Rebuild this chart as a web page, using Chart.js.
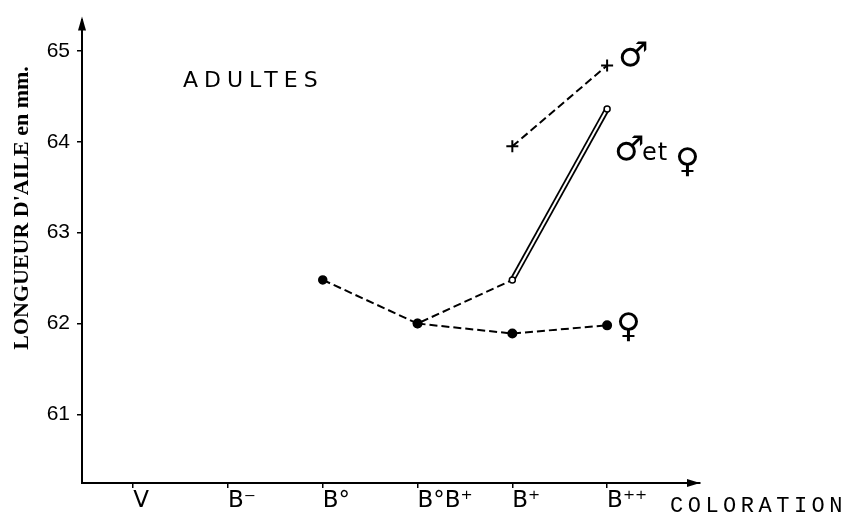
<!DOCTYPE html>
<html lang="fr">
<head>
  <meta charset="UTF-8">
  <title>Longueur d'aile - adultes</title>
  <script src="https://cdn.jsdelivr.net/npm/chart.js@4.4.1/dist/chart.umd.min.js"></script>
  <style>
    body {
      margin: 0;
      background: #fff;
    }
    canvas {
      display: block;
    }
  </style>
</head>
<body>
  <canvas id="wingChart" width="852" height="521"></canvas>

  <script>
    // categories de coloration (axe x, position = index)
    const categories = ['V', 'B⁻', 'B°', 'B°B⁺', 'B⁺', 'B⁺⁺'];
    const yTicks = [61, 62, 63, 64, 65];

    // males
    const maleX = [4, 5];
    const maleY = [63.95, 64.84];

    // males et femelles
    const bothX = [2, 3, 4, 5];
    const bothY = [62.48, 62.0, 62.48, 64.36];

    // femelles
    const femaleX = [3, 4, 5];
    const femaleY = [62.0, 61.89, 61.98];

    const toPoints = (xs, ys) => xs.map((x, i) => ({ x: x, y: ys[i] }));

    const annotations = {
      id: 'annotations',
      afterDraw(chart) {
        const ctx = chart.ctx;
        const area = chart.chartArea;
        ctx.save();
        ctx.fillStyle = '#000';

        // fleches des axes
        ctx.beginPath();
        ctx.moveTo(area.left, area.top - 3);
        ctx.lineTo(area.left - 4, area.top + 11);
        ctx.lineTo(area.left + 4, area.top + 11);
        ctx.closePath();
        ctx.fill();

        ctx.beginPath();
        ctx.moveTo(area.right, area.bottom);
        ctx.lineTo(area.right - 13, area.bottom - 4);
        ctx.lineTo(area.right - 13, area.bottom + 4);
        ctx.closePath();
        ctx.fill();

        // titre de l'axe y
        ctx.save();
        ctx.translate(22, 208);
        ctx.rotate(-Math.PI / 2);
        ctx.font = 'bold 22px "Liberation Serif"';
        ctx.textAlign = 'center';
        ctx.textBaseline = 'middle';
        ctx.fillText("LONGUEUR D'AILE en mm.", 0, 0);
        ctx.restore();

        // titre de l'axe x
        ctx.font = '22px "Liberation Mono"';
        ctx.letterSpacing = '4.5px';
        ctx.textAlign = 'left';
        ctx.textBaseline = 'alphabetic';
        ctx.fillText('COLORATION', 670, 512);

        ctx.font = '22px "DejaVu Sans"';
        ctx.letterSpacing = '6px';
        ctx.fillText('ADULTES', 183, 87);
        ctx.letterSpacing = '0px';

        // symboles
        ctx.font = '34px "DejaVu Sans"';
        ctx.textBaseline = 'middle';
        ctx.fillText('♂', 618, 57);
        ctx.fillText('♂', 614, 151);
        ctx.fillText('♀', 675, 163);
        ctx.fillText('♀', 616, 328);
        ctx.font = '24px "DejaVu Sans"';
        ctx.letterSpacing = '1px';
        ctx.fillText('et', 642, 154);
        ctx.letterSpacing = '0px';

        ctx.restore();
      }
    };

    new Chart(document.getElementById('wingChart'), {
      type: 'line',
      data: {
        datasets: [
          {
            label: 'mâles et femelles',
            data: toPoints(bothX, bothY),
            borderColor: '#000',
            borderWidth: 2,
            borderDash: [8, 4],
            segment: {
              borderColor: c => c.p1DataIndex === 3 ? 'rgba(0,0,0,0)' : '#000'
            },
            pointStyle: 'circle',
            pointRadius: [4, 4, 3, 3],
            pointBorderWidth: 1.5,
            pointBorderColor: '#000',
            pointBackgroundColor: ['#000', '#000', '#fff', '#fff']
          },
          {
            label: 'trait double intérieur',
            data: toPoints(bothX.slice(2), bothY.slice(2)),
            borderColor: '#fff',
            borderWidth: 2,
            pointRadius: 0
          },
          {
            label: 'trait double extérieur',
            data: toPoints(bothX.slice(2), bothY.slice(2)),
            borderColor: '#000',
            borderWidth: 5.5,
            pointRadius: 0
          },
          {
            label: 'mâles',
            data: toPoints(maleX, maleY),
            borderColor: '#000',
            borderWidth: 2,
            borderDash: [8, 4],
            pointStyle: 'cross',
            pointRadius: 6,
            pointBorderWidth: 2,
            pointBorderColor: '#000'
          },
          {
            label: 'femelles',
            data: toPoints(femaleX, femaleY),
            borderColor: '#000',
            borderWidth: 2,
            borderDash: [8, 4],
            pointStyle: 'circle',
            pointRadius: 4,
            pointBorderColor: '#000',
            pointBackgroundColor: '#000'
          }
        ]
      },
      options: {
        responsive: false,
        animation: false,
        layout: {
          padding: { top: 10, right: 152, left: 0, bottom: 0 }
        },
        plugins: {
          legend: { display: false },
          tooltip: { enabled: false }
        },
        scales: {
          x: {
            type: 'linear',
            min: -0.54,
            max: 5.98,
            afterFit: s => { s.height = 38; },
            afterBuildTicks: s => { s.ticks = categories.map((c, i) => ({ value: i })); },
            border: { color: '#000', width: 2 },
            grid: {
              drawOnChartArea: false,
              drawTicks: true,
              tickLength: 5,
              color: '#000',
              lineWidth: 1.5
            },
            ticks: {
              autoSkip: false,
              maxRotation: 0,
              align: 'start',
              padding: -1,
              color: '#000',
              font: { family: '"DejaVu Sans"', size: 23 },
              callback: v => categories[v]
            }
          },
          y: {
            min: 60.245,
            max: 65.345,
            afterFit: s => { s.width = 82; },
            afterBuildTicks: s => { s.ticks = yTicks.map(v => ({ value: v })); },
            border: { color: '#000', width: 2 },
            grid: {
              drawOnChartArea: false,
              drawTicks: true,
              tickLength: 5,
              color: '#000',
              lineWidth: 1.5
            },
            ticks: {
              padding: 7,
              color: '#000',
              font: { family: '"Liberation Sans"', size: 21 }
            }
          }
        }
      },
      plugins: [annotations]
    });
  </script>
</body>
</html>
